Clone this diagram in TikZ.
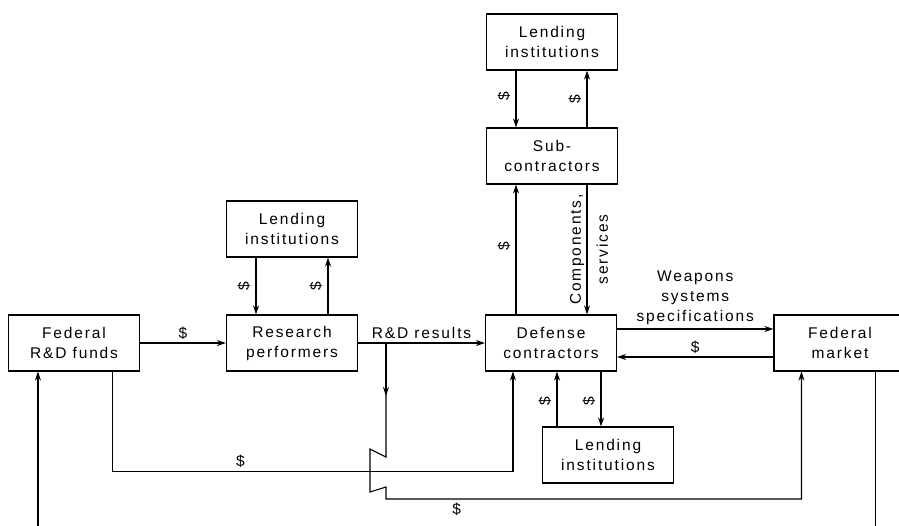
\documentclass[tikz,border=0pt]{standalone}
\usepackage{fontspec}
\setmainfont{Liberation Sans}[LetterSpace=12]
\usetikzlibrary{arrows.meta,calc}

\begin{document}
\begin{tikzpicture}[x=1pt, y=-1pt, line width=1.1pt,
        every node/.style={font=\fontsize{15.5}{20}\selectfont},
        block/.style={draw, align=center, minimum width=131pt, minimum height=56pt, inner sep=0pt},
        flow/.style={-{Stealth[length=9pt, width=6pt]}},
        cash/.style={midway, xshift=-12pt, rotate=90, inner sep=1pt}]
    \clip (0,0) rectangle (899,525);
    % boxes
    \node[block] (fedfunds) at (74,343) {Federal\\R\&D funds};
    \node[block] (research) at (292,343) {Research\\performers};
    \node[block] (lendA) at (292,229) {Lending\\institutions};
    \node[block] (defense) at (551,343) {Defense\\contractors};
    \node[block] (sub) at (552,156) {Sub-\\contractors};
    \node[block] (lendTop) at (552,42) {Lending\\institutions};
    \node[block] (lendBot) at (608,455) {Lending\\institutions};
    \node[block, minimum width=132pt] (market) at (840,343) {Federal\\market};

    % funds to research, results to contractors
    \draw[flow] (fedfunds) -- node[above] {\$} (research);
    \draw[flow] (research) -- node[above] {R\&D results} (defense);

    % research and its lenders
    \coordinate (lendAL) at ($(lendA.south)+(-36,0)$);
    \coordinate (lendAR) at ($(lendA.south)+(36,0)$);
    \draw[flow] (lendAL) -- node[cash] {\$} (lendAL |- research.north);
    \draw[flow] (lendAR |- research.north) -- node[cash] {\$} (lendAR);

    % subcontractors and their lenders
    \coordinate (subL) at ($(sub.south)+(-36,0)$);
    \coordinate (subR) at ($(sub.south)+(35,0)$);
    \draw[flow] (subL |- lendTop.south) -- node[cash, xshift=3pt] {\$} (subL |- sub.north);
    \draw[flow] (subR |- sub.north) -- node[cash] {\$} (subR |- lendTop.south);
    \draw[flow] (subL |- defense.north) -- node[cash, xshift=3pt] {\$} (subL);
    \draw[flow] (subR) -- node[midway, xshift=2pt, rotate=90, align=center]
        {Components,\\[7pt]services} (subR |- defense.north);

    % contractors and their lenders
    \coordinate (botL) at ($(lendBot.north)+(-51,0)$);
    \coordinate (botR) at ($(lendBot.north)+(-7,0)$);
    \draw[flow] (botL) -- node[cash, xshift=-2pt] {\$} (botL |- defense.south);
    \draw[flow] (botR |- defense.south) -- node[cash, xshift=-2pt] {\$} (botR);

    % contractors and market
    \draw[flow] ($(defense.east)+(0,-14)$) -- node[above, align=center]
        {Weapons\\systems\\specifications} ($(market.west)+(0,-14)$);
    \draw[flow] ($(market.west)+(0,14)$) -- node[above] {\$} ($(defense.east)+(0,14)$);

    % federal funds to contractors
    \draw[flow] ($(fedfunds.south east)+(-28,0)$) -- ++(0,100)
        -| node[pos=0.16, above] {\$} ($(defense.south west)+(28,0)$);

    % branch with break to market
    \coordinate (split) at ($(research.east)!0.22!(defense.west)$);
    \draw[flow] (split) -- ++(0,53);
    \draw[flow] ($(split)+(0,50)$) -- ++(0,64) -- ++(-16,-8) -- ++(0,43) -- ++(16,-5) -- ++(0,12)
        -| node[pos=0.085, below] {\$} ($(market.south west)+(28,0)$);

    % loop off the bottom edge
    \coordinate (loopR) at ($(market.south west)+(102,170)$);
    \coordinate (loopL) at ($(fedfunds.south west)+(30,170)$);
    \draw (loopR |- market.south) -- (loopR);
    \draw[flow] (loopL) -- (loopL |- fedfunds.south);
\end{tikzpicture}
\end{document}
